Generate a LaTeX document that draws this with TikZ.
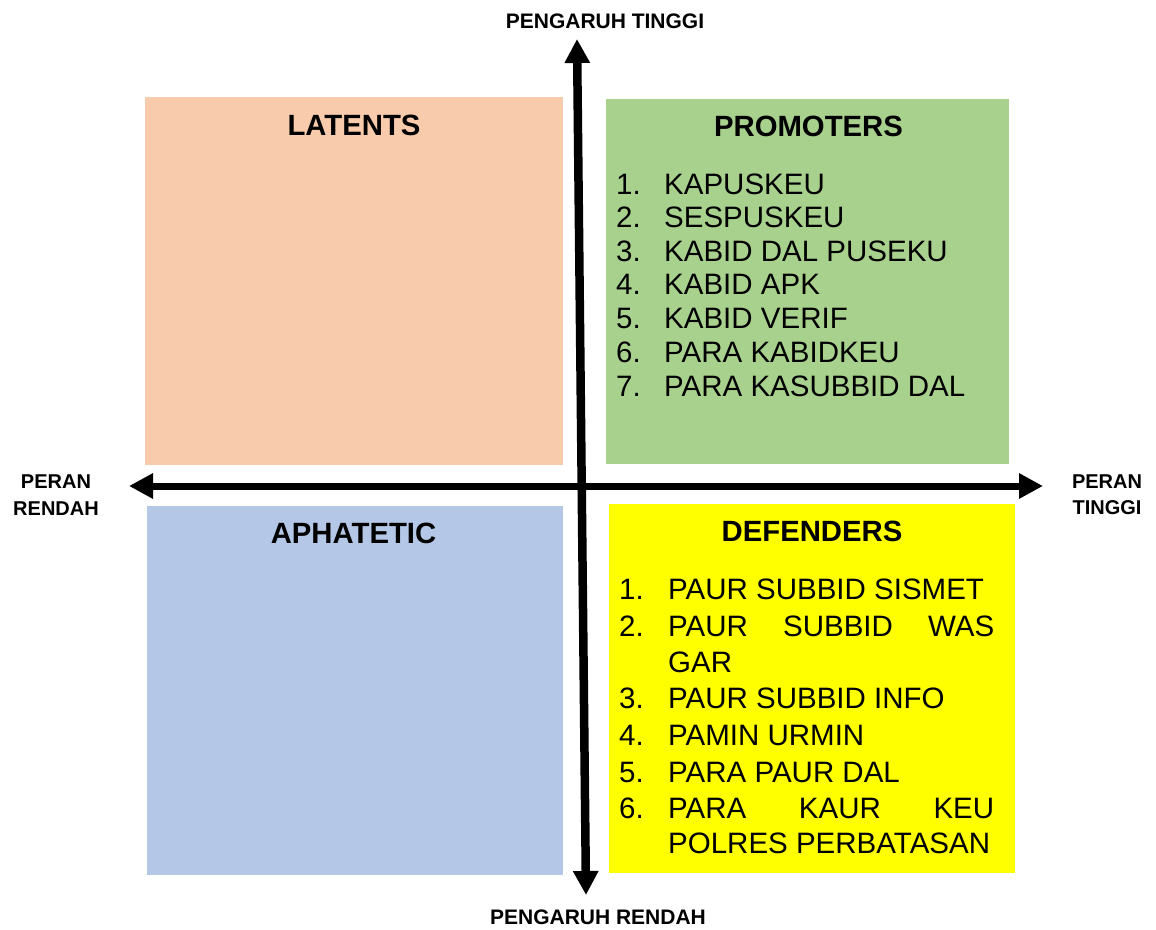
\documentclass[tikz,border=0pt]{standalone}
\usepackage{fontspec}
\setmainfont{Liberation Sans}
\usetikzlibrary{arrows.meta}
\definecolor{latc}{HTML}{F7CBAC}
\definecolor{proc}{HTML}{A9D18E}
\definecolor{aphc}{HTML}{B4C7E7}
\definecolor{defc}{HTML}{FFFF00}
\tikzset{
  quad/.style={inner sep=0pt, outer sep=0pt, anchor=north west, draw=none},
  ttl/.style={inner sep=0pt, anchor=base, font=\fontsize{29.3}{33}\selectfont\bfseries},
  item/.style={inner sep=0pt, anchor=base west, font=\fontsize{29.5}{33}\selectfont},
  axlab/.style={inner sep=0pt, anchor=base, font=\fontsize{21}{24}\selectfont\bfseries},
  sidelab/.style={inner sep=0pt, anchor=base, font=\fontsize{20}{24}\selectfont\bfseries},
  axarrow/.style={draw=black, {Triangle[length=24pt,width=24pt]}-{Triangle[length=24pt,width=24pt]}}
}
\begin{document}
\begin{tikzpicture}[x=1pt,y=-1pt]
\useasboundingbox[fill=white] (0,0) rectangle (1156,929);
% quadrants
\node[quad, fill=latc, minimum width=418pt, minimum height=368pt] (lat) at (145,97) {};
\node[quad, fill=proc, minimum width=403pt, minimum height=365pt] (pro) at (606,99) {};
\node[quad, fill=aphc, minimum width=416pt, minimum height=369pt] (aph) at (147,506) {};
\node[quad, fill=defc, minimum width=406pt, minimum height=369pt] (def) at (609,504) {};
% titles
\node[ttl] (latt) at (354,135) {LATENTS};
\node[ttl] (prot) at (808.5,136) {PROMOTERS};
\node[ttl] (apht) at (353.5,543) {APHATETIC};
\node[ttl] (deft) at (812,541) {DEFENDERS};
% promoters list
\foreach \n/\b/\t in {1/194/KAPUSKEU, 2/227.5/SESPUSKEU, 3/261/KABID DAL PUSEKU, 4/294.5/KABID APK, 5/328/KABID VERIF, 6/362/PARA KABIDKEU, 7/396/PARA KASUBBID DAL}{
  \node[item] (pn\n) at (616,\b) {\n.};
  \node[item] (pi\n) at (664,\b) {\t};
}
% defenders list
\node[item] (dn1) at (619,599) {1.};
\node[item] (di1) at (668,599) {PAUR SUBBID SISMET};
\node[item] (dn2) at (619,636) {2.};
\node[item] (di2) at (668,636) {\makebox[326pt][l]{PAUR\hfill SUBBID\hfill WAS}};
\node[item] (di2b) at (668,672) {GAR};
\node[item] (dn3) at (619,708) {3.};
\node[item] (di3) at (668,708) {PAUR SUBBID INFO};
\node[item] (dn4) at (619,745) {4.};
\node[item] (di4) at (668,745) {PAMIN URMIN};
\node[item] (dn5) at (619,782) {5.};
\node[item] (di5) at (668,782) {PARA PAUR DAL};
\node[item] (dn6) at (619,818) {6.};
\node[item] (di6) at (668,818) {\makebox[326pt][l]{PARA\hfill KAUR\hfill KEU}};
\node[item] (di6b) at (668,853) {POLRES PERBATASAN};
% axes
\coordinate (vtop) at (577,39);
\coordinate (vbot) at (586,895);
\coordinate (hleft) at (129,486);
\coordinate (hright) at (1043,486);
\draw[axarrow, line width=7pt] (hleft) -- (hright);
\draw[axarrow, line width=8.5pt] (vbot) -- (vtop);
% axis labels
\node[axlab] (ptop) at (605,28) {PENGARUH TINGGI};
\node[axlab] (pbot) at (598,924.5) {PENGARUH RENDAH};
\node[sidelab] (prl1) at (56,488) {PERAN};
\node[sidelab] (prl2) at (56,515) {RENDAH};
\node[sidelab] (prr1) at (1107,488) {PERAN};
\node[sidelab] (prr2) at (1107,514) {TINGGI};
\end{tikzpicture}
\end{document}
